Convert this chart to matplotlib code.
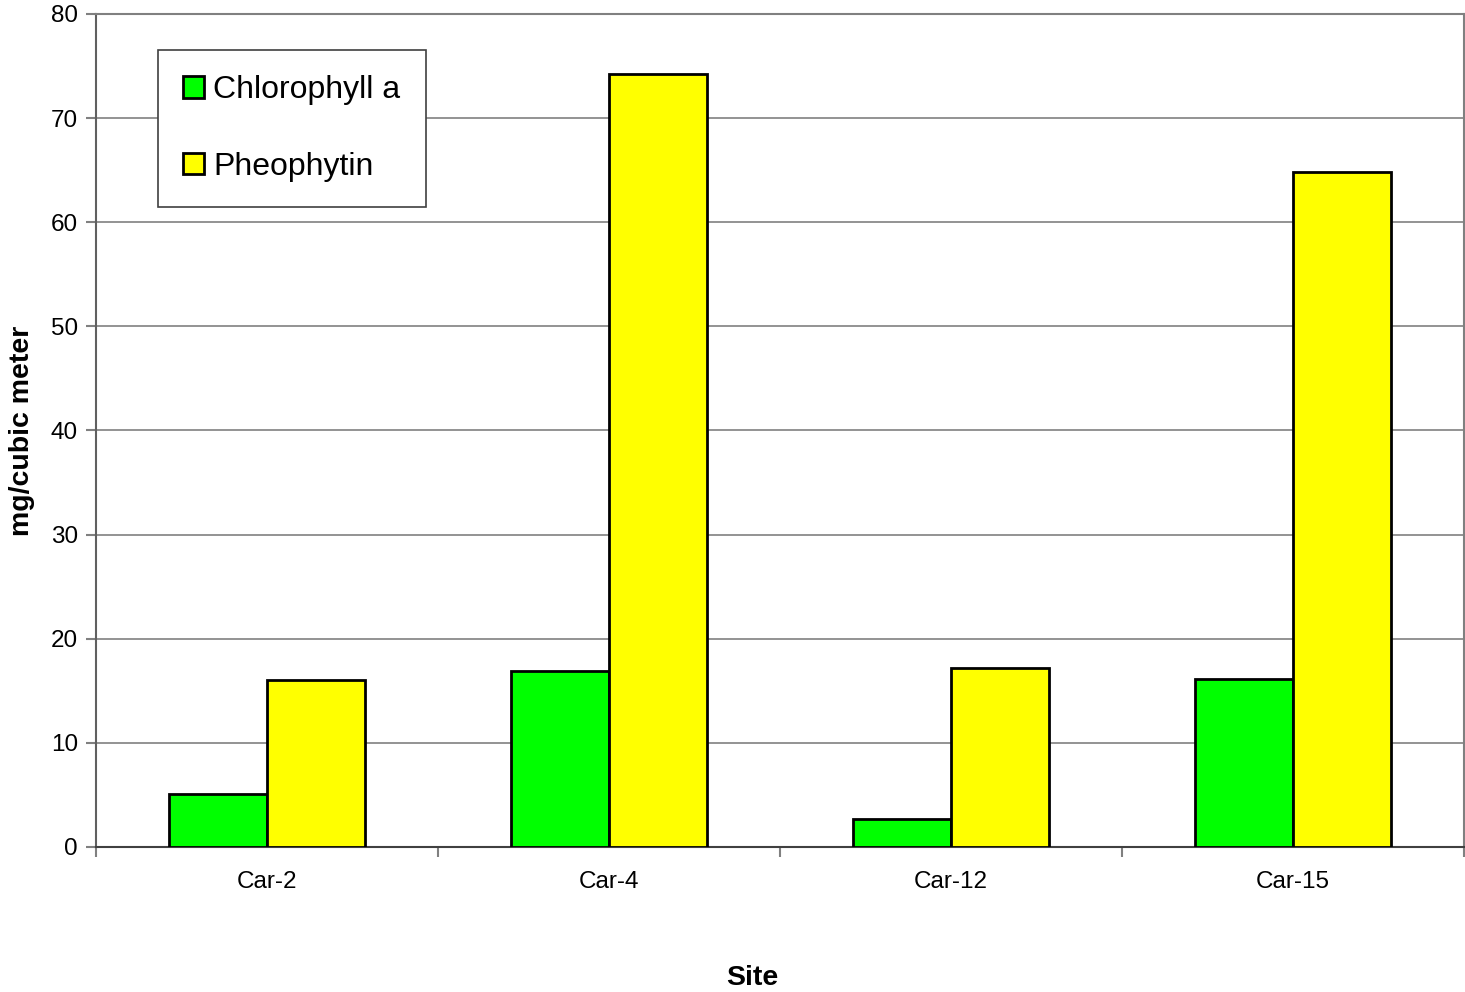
import numpy as np
import matplotlib
matplotlib.use("Agg")
import matplotlib.pyplot as plt

plt.rcParams['font.family'] = ['Liberation Sans', 'DejaVu Sans']

sites = ['Car-2', 'Car-4', 'Car-12', 'Car-15']
chlorophyll = [5.1, 16.9, 2.7, 16.1]
pheophytin = [16.0, 74.2, 17.2, 64.8]

fig = plt.figure(figsize=(14.65, 9.92), dpi=100)
ax = fig.add_axes([0.0655, 0.1462, 0.9338, 0.8397])

x = np.arange(len(sites))
w = 0.287
ax.bar(x - w / 2, chlorophyll, w, color='#00ff00', edgecolor='black', linewidth=2, label='Chlorophyll a', zorder=3)
ax.bar(x + w / 2, pheophytin, w, color='#ffff00', edgecolor='black', linewidth=2, label='Pheophytin', zorder=3)

ax.set_xlim(-0.5, len(sites) - 0.5)
ax.set_ylim(0, 80)
ax.set_yticks(range(0, 81, 10))
ax.yaxis.grid(True, color='#808080', linewidth=1.2, zorder=0)

# category ticks sit between groups
ax.set_xticks(np.arange(-0.5, len(sites)), minor=False)
ax.set_xticklabels([])
ax.set_xticks(x, minor=True)
ax.set_xticklabels(sites, minor=True)
ax.tick_params(axis='x', which='minor', length=0, pad=17, labelsize=17.5)
ax.tick_params(axis='x', which='major', length=7, color='#808080', width=1.5)
ax.tick_params(axis='y', length=7, color='#808080', width=1.5, labelsize=17.5, pad=6)

for s in ax.spines.values():
    s.set_color('#808080')
    s.set_linewidth(1.5)
ax.spines['bottom'].set_color('#404040')
ax.spines['left'].set_color('#606060')

ax.set_xlabel('Site', fontsize=20.5, fontweight='bold', labelpad=52)
ax.xaxis.label.set_x(0.4795)
ax.set_ylabel('mg/cubic meter', fontsize=20.5, fontweight='bold', labelpad=11)

leg = ax.legend(loc='upper left', bbox_to_anchor=(0.045, 0.957), fontsize=23,
                frameon=True, fancybox=False, edgecolor='#404040', framealpha=1,
                handlelength=0.65, handleheight=0.65, handletextpad=0.3,
                labelspacing=1.45, borderpad=0.8, borderaxespad=0)
leg.get_frame().set_linewidth(1.2)
leg.set_zorder(5)

fig.savefig('out.png', dpi=100)
